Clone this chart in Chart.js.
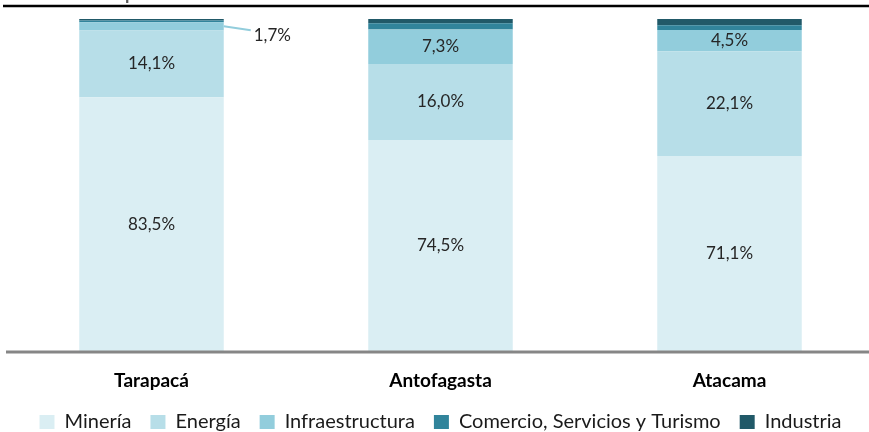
<!DOCTYPE html>
<html>
<head>
<meta charset="utf-8">
<script src="https://cdn.jsdelivr.net/npm/chart.js@4"></script>
<style>
  html, body { margin: 0; padding: 0; background: #fff; overflow: hidden; }
  #wrap { position: absolute; left: 0; top: 0; width: 874px; height: 442px; }
</style>
</head>
<body>
<div id="wrap"><canvas id="chart"></canvas></div>
<script>
/* ─── DATA ─────────────────────────────────────────────── */
const categories      = ['Tarapacá', 'Antofagasta', 'Atacama'];
const mineria         = [83.5, 74.5, 71.1];
const energia         = [14.1, 16.0, 22.1];
const infraestructura = [1.7, 7.3, 4.5];
const comercio        = [0.4, 1.3, 1.0];
const industria       = [0.3, 0.9, 1.3];
const axisMin = 30;
const axisMax = 100;

const seriesNames  = ['Minería', 'Energía', 'Infraestructura', 'Comercio, Servicios y Turismo', 'Industria'];
const seriesValues = [mineria, energia, infraestructura, comercio, industria];
const seriesColors = ['#DAEEF3', '#B7DEE8', '#92CDDC', '#31849B', '#215968'];
const labelledSeries = [0, 1, 2];

const FONT = "Lato, 'Open Sans', sans-serif";
const fmt = v => v.toFixed(1).replace('.', ',') + '%';

/* ─── DECORATION: clipped title, top rule, baseline ────── */
const frame = {
  id: 'frame',
  beforeDraw(chart) {
    const ctx = chart.ctx;
    ctx.save();
    ctx.fillStyle = '#595959';
    ctx.font = 'bold 18px ' + FONT;
    ctx.textBaseline = 'alphabetic';
    ctx.fillText('Inversión por sectores', 47, -0.5);
    ctx.strokeStyle = '#000';
    ctx.lineWidth = 2.5;
    ctx.beginPath();
    ctx.moveTo(3, 6);
    ctx.lineTo(869, 6);
    ctx.stroke();
    ctx.restore();
  },
  afterDatasetsDraw(chart) {
    const ctx = chart.ctx;
    const area = chart.chartArea;
    ctx.save();
    ctx.strokeStyle = '#868686';
    ctx.lineWidth = 3;
    ctx.beginPath();
    ctx.moveTo(6, area.bottom + 1);
    ctx.lineTo(869, area.bottom + 1);
    ctx.stroke();
    ctx.restore();
  }
};

/* ─── VALUE LABELS ─────────────────────────────────────── */
const valueLabels = {
  id: 'valueLabels',
  afterDatasetsDraw(chart) {
    const ctx = chart.ctx;
    const area = chart.chartArea;
    ctx.save();
    ctx.font = '17px ' + FONT;
    ctx.fillStyle = '#262626';
    ctx.textBaseline = 'middle';
    labelledSeries.forEach(di => {
      const meta = chart.getDatasetMeta(di);
      meta.data.forEach((bar, i) => {
        const v = chart.data.datasets[di].data[i];
        const top = Math.max(bar.y, area.top);
        const bottom = Math.min(bar.base, area.bottom);
        const h = bottom - top;
        if (h < 14) {
          // small segment: label outside with leader line
          const right = bar.x + bar.width / 2;
          const cy = (top + bottom) / 2;
          ctx.strokeStyle = seriesColors[di];
          ctx.lineWidth = 2;
          ctx.beginPath();
          ctx.moveTo(right, cy);
          ctx.lineTo(right + 27, cy + 4);
          ctx.stroke();
          ctx.textAlign = 'left';
          ctx.fillText(fmt(v), right + 30, cy + 9);
        } else {
          ctx.textAlign = 'center';
          ctx.fillText(fmt(v), bar.x, (top + bottom) / 2);
        }
      });
    });
    ctx.restore();
  }
};

new Chart(document.getElementById('chart'), {
  type: 'bar',
  data: {
    labels: categories,
    datasets: seriesNames.map((name, i) => ({
      label: name,
      data: seriesValues[i],
      backgroundColor: seriesColors[i],
      borderWidth: 0,
      categoryPercentage: 1,
      barPercentage: 0.5,
      clip: 0
    }))
  },
  options: {
    responsive: true,
    maintainAspectRatio: false,
    animation: false,
    layout: { padding: { left: 7, right: 0, top: 19, bottom: 0 } },
    plugins: {
      legend: {
        position: 'bottom',
        labels: {
          boxWidth: 15,
          boxHeight: 14,
          padding: 19,
          color: '#1a1a1a',
          font: { family: FONT, size: 20 }
        }
      },
      tooltip: { enabled: false }
    },
    scales: {
      x: {
        stacked: true,
        grid: { display: false, drawTicks: false },
        border: { display: false },
        ticks: {
          color: '#000',
          padding: 18,
          font: { family: FONT, size: 19, weight: 'bold' }
        },
        afterFit: scale => { scale.height = 42; }
      },
      y: {
        stacked: true,
        display: false,
        min: axisMin,
        max: axisMax
      }
    }
  },
  plugins: [frame, valueLabels]
});
</script>
</body>
</html>
